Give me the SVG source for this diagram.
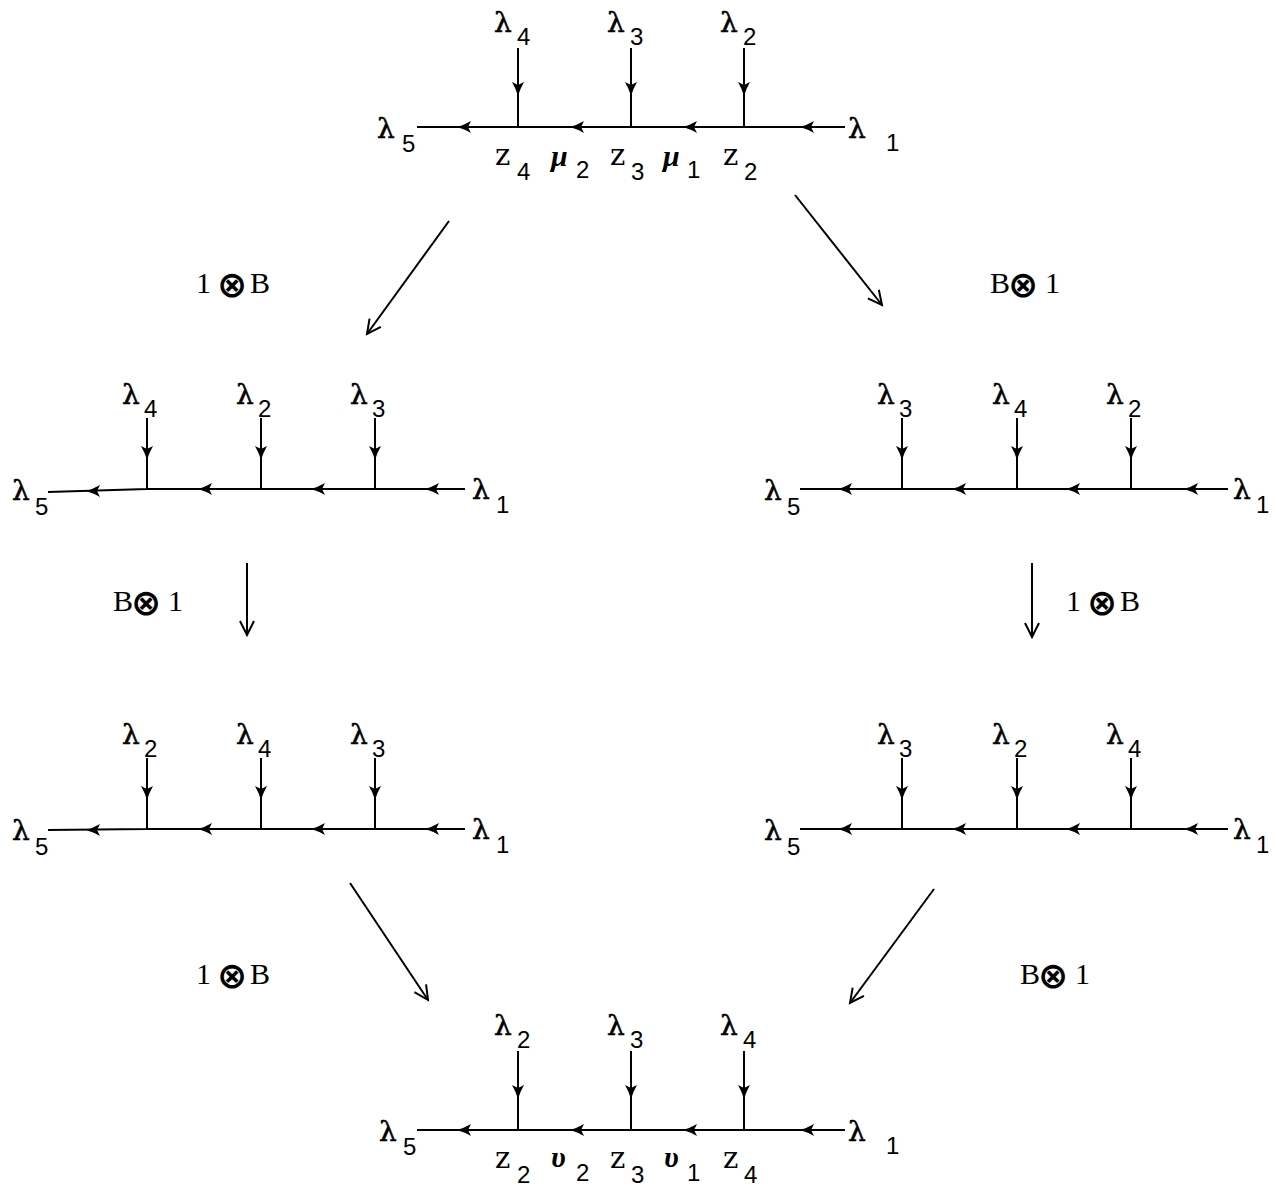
<svg xmlns="http://www.w3.org/2000/svg" xmlns:xlink="http://www.w3.org/1999/xlink" width="1277" height="1188" viewBox="0 0 1277 1188">
<style>
.ln{stroke:#000;stroke-width:2;fill:none}
.t{font-family:"DejaVu Serif","Liberation Serif",serif;font-size:29px;fill:#000}
.l{font-family:"DejaVu Serif","Liberation Serif",serif;font-size:28px;fill:#000;stroke:#000;stroke-width:0.6}
.s{font-family:"Liberation Sans","DejaVu Sans",sans-serif;font-size:24px;fill:#000}
.g{font-family:"Liberation Serif","DejaVu Serif",serif;font-size:30px;font-style:italic;font-weight:bold;fill:#000}
.op{font-family:"Liberation Serif","DejaVu Serif",serif;font-size:30px;fill:#000}
.ox{font-family:"DejaVu Sans","Liberation Sans",sans-serif;font-size:36px;font-weight:bold;fill:#000}
</style>
<defs>
<path id="hl" d="M0,0 Q7,-2 14,-6 L11,0 L14,6 Q7,2 0,0 Z" fill="#000"/>
<path id="vd" d="M0,0 Q-2,-7 -6,-14 L0,-11 L6,-14 Q2,-7 0,0 Z" fill="#000"/>
<marker id="ma" markerWidth="20" markerHeight="20" refX="16" refY="8" orient="auto" markerUnits="userSpaceOnUse" viewBox="0 0 20 16">
<path d="M2,1 L16,8 L2,15" fill="none" stroke="#000" stroke-width="2"/>
</marker>
</defs>

<g id="node-top">
<path class="ln" d="M417,127 H845 M518,48 V127 M631,48 V127 M744,48 V127"/>
<use xlink:href="#hl" x="457" y="127"/><use xlink:href="#hl" x="570" y="127"/><use xlink:href="#hl" x="683" y="127"/><use xlink:href="#hl" x="800" y="127"/>
<use xlink:href="#vd" x="518" y="96"/><use xlink:href="#vd" x="631" y="96"/><use xlink:href="#vd" x="744" y="96"/>
<text class="l" x="494" y="32">λ</text><text class="s" x="517" y="45">4</text>
<text class="l" x="607" y="32">λ</text><text class="s" x="630" y="45">3</text>
<text class="l" x="720" y="32">λ</text><text class="s" x="743" y="45">2</text>
<text class="l" x="377" y="138">λ</text><text class="s" x="402" y="152">5</text>
<text class="l" x="848" y="138">λ</text><text class="s" x="886" y="151">1</text>
<text class="t" x="495" y="165">z</text><text class="s" x="517" y="180">4</text>
<text class="g" x="551" y="166">μ</text><text class="s" x="576" y="178">2</text>
<text class="t" x="610" y="165">z</text><text class="s" x="631" y="180">3</text>
<text class="g" x="663" y="166">μ</text><text class="s" x="687" y="178">1</text>
<text class="t" x="723" y="165">z</text><text class="s" x="744" y="180">2</text>
</g>

<g id="node-midleft">
<path class="ln" d="M48,492 L147,489 H465 M147,418 V489 M261,418 V489 M375,418 V489"/>
<use xlink:href="#hl" x="86" y="491"/><use xlink:href="#hl" x="198" y="489"/><use xlink:href="#hl" x="311" y="489"/><use xlink:href="#hl" x="425" y="489"/>
<use xlink:href="#vd" x="147" y="460"/><use xlink:href="#vd" x="261" y="460"/><use xlink:href="#vd" x="375" y="460"/>
<text class="l" x="122" y="404">λ</text><text class="s" x="144" y="417">4</text>
<text class="l" x="236" y="404">λ</text><text class="s" x="258" y="417">2</text>
<text class="l" x="350" y="404">λ</text><text class="s" x="372" y="417">3</text>
<text class="l" x="12" y="500">λ</text><text class="s" x="35" y="515">5</text>
<text class="l" x="472" y="499">λ</text><text class="s" x="496" y="513">1</text>
</g>

<g id="node-midright">
<path class="ln" d="M800,489 H1228 M902,418 V489 M1017,418 V489 M1131,418 V489"/>
<use xlink:href="#hl" x="838" y="489"/><use xlink:href="#hl" x="952" y="489"/><use xlink:href="#hl" x="1066" y="489"/><use xlink:href="#hl" x="1184" y="489"/>
<use xlink:href="#vd" x="902" y="460"/><use xlink:href="#vd" x="1017" y="460"/><use xlink:href="#vd" x="1131" y="460"/>
<text class="l" x="877" y="404">λ</text><text class="s" x="899" y="417">3</text>
<text class="l" x="992" y="404">λ</text><text class="s" x="1014" y="417">4</text>
<text class="l" x="1106" y="404">λ</text><text class="s" x="1128" y="417">2</text>
<text class="l" x="764" y="500">λ</text><text class="s" x="787" y="515">5</text>
<text class="l" x="1233" y="499">λ</text><text class="s" x="1256" y="513">1</text>
</g>

<g id="node-lowleft">
<path class="ln" d="M48,830 L147,829 H465 M147,758 V829 M261,758 V829 M375,758 V829"/>
<use xlink:href="#hl" x="86" y="830"/><use xlink:href="#hl" x="198" y="829"/><use xlink:href="#hl" x="311" y="829"/><use xlink:href="#hl" x="425" y="829"/>
<use xlink:href="#vd" x="147" y="800"/><use xlink:href="#vd" x="261" y="800"/><use xlink:href="#vd" x="375" y="800"/>
<text class="l" x="122" y="744">λ</text><text class="s" x="144" y="757">2</text>
<text class="l" x="236" y="744">λ</text><text class="s" x="258" y="757">4</text>
<text class="l" x="350" y="744">λ</text><text class="s" x="372" y="757">3</text>
<text class="l" x="12" y="840">λ</text><text class="s" x="35" y="855">5</text>
<text class="l" x="472" y="839">λ</text><text class="s" x="496" y="853">1</text>
</g>

<g id="node-lowright">
<path class="ln" d="M800,829 H1228 M902,758 V829 M1017,758 V829 M1131,758 V829"/>
<use xlink:href="#hl" x="838" y="829"/><use xlink:href="#hl" x="952" y="829"/><use xlink:href="#hl" x="1066" y="829"/><use xlink:href="#hl" x="1184" y="829"/>
<use xlink:href="#vd" x="902" y="800"/><use xlink:href="#vd" x="1017" y="800"/><use xlink:href="#vd" x="1131" y="800"/>
<text class="l" x="877" y="744">λ</text><text class="s" x="899" y="757">3</text>
<text class="l" x="992" y="744">λ</text><text class="s" x="1014" y="757">2</text>
<text class="l" x="1106" y="744">λ</text><text class="s" x="1128" y="757">4</text>
<text class="l" x="764" y="840">λ</text><text class="s" x="787" y="855">5</text>
<text class="l" x="1233" y="839">λ</text><text class="s" x="1256" y="853">1</text>
</g>

<g id="node-bottom">
<path class="ln" d="M417,1130 H845 M518,1051 V1130 M631,1051 V1130 M744,1051 V1130"/>
<use xlink:href="#hl" x="457" y="1130"/><use xlink:href="#hl" x="570" y="1130"/><use xlink:href="#hl" x="683" y="1130"/><use xlink:href="#hl" x="800" y="1130"/>
<use xlink:href="#vd" x="518" y="1099"/><use xlink:href="#vd" x="631" y="1099"/><use xlink:href="#vd" x="744" y="1099"/>
<text class="l" x="494" y="1035">λ</text><text class="s" x="517" y="1048">2</text>
<text class="l" x="607" y="1035">λ</text><text class="s" x="630" y="1048">3</text>
<text class="l" x="720" y="1035">λ</text><text class="s" x="743" y="1048">4</text>
<text class="l" x="379" y="1141">λ</text><text class="s" x="403" y="1155">5</text>
<text class="l" x="848" y="1141">λ</text><text class="s" x="886" y="1154">1</text>
<text class="t" x="495" y="1168">z</text><text class="s" x="517" y="1183">2</text>
<text class="g" x="551" y="1167">υ</text><text class="s" x="576" y="1181">2</text>
<text class="t" x="610" y="1168">z</text><text class="s" x="631" y="1183">3</text>
<text class="g" x="664" y="1167">υ</text><text class="s" x="687" y="1181">1</text>
<text class="t" x="723" y="1168">z</text><text class="s" x="744" y="1183">4</text>
</g>

<g id="connectors">
<line class="ln" x1="449" y1="221" x2="367" y2="334" marker-end="url(#ma)"/>
<line class="ln" x1="795" y1="195" x2="882" y2="305" marker-end="url(#ma)"/>
<line class="ln" x1="247" y1="563" x2="247" y2="635" marker-end="url(#ma)"/>
<line class="ln" x1="1032" y1="563" x2="1032" y2="637" marker-end="url(#ma)"/>
<line class="ln" x1="350" y1="883" x2="428" y2="1000" marker-end="url(#ma)"/>
<line class="ln" x1="934" y1="889" x2="850" y2="1003" marker-end="url(#ma)"/>
<text class="op" x="196" y="293">1</text><text class="ox" x="217" y="297">⊗</text><text class="op" x="250" y="293">B</text>
<text class="op" x="990" y="293">B</text><text class="ox" x="1008" y="297">⊗</text><text class="op" x="1045" y="293">1</text>
<text class="op" x="113" y="611">B</text><text class="ox" x="131" y="615">⊗</text><text class="op" x="168" y="611">1</text>
<text class="op" x="1066" y="611">1</text><text class="ox" x="1087" y="615">⊗</text><text class="op" x="1120" y="611">B</text>
<text class="op" x="196" y="984">1</text><text class="ox" x="217" y="988">⊗</text><text class="op" x="250" y="984">B</text>
<text class="op" x="1020" y="984">B</text><text class="ox" x="1038" y="988">⊗</text><text class="op" x="1075" y="984">1</text>
</g>
</svg>
